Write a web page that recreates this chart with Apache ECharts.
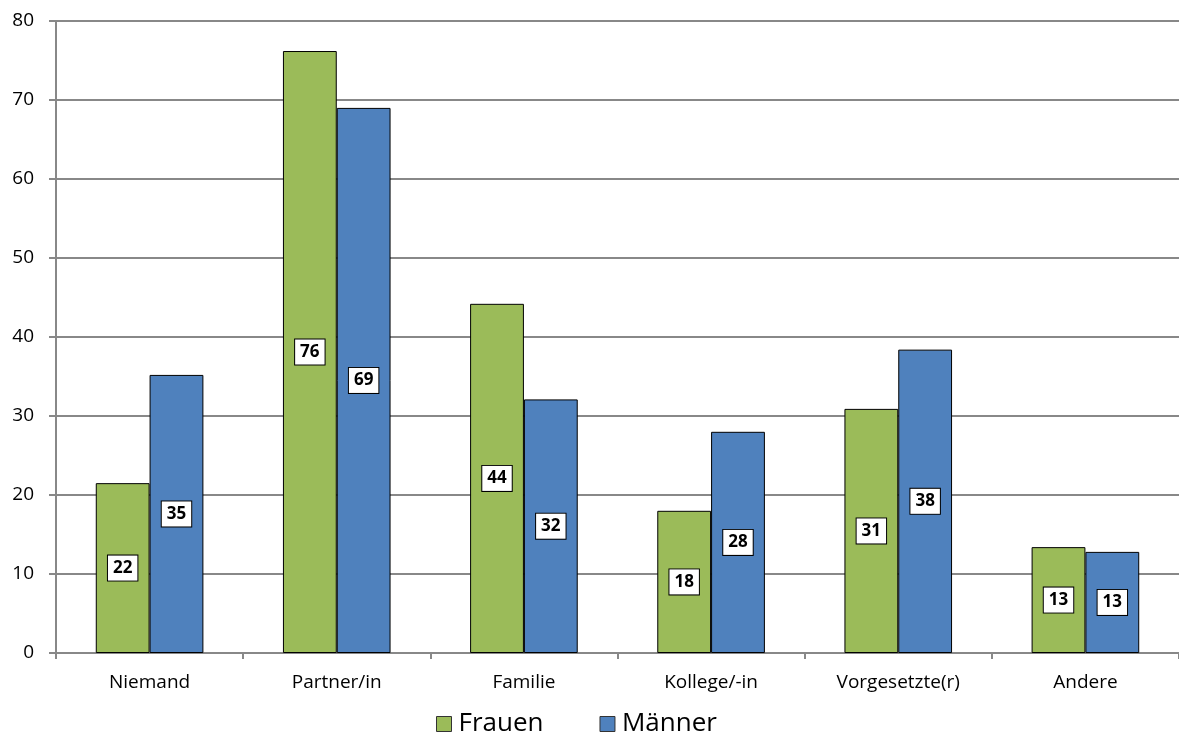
<!DOCTYPE html>
<html><head><meta charset="utf-8">
<script src="https://cdn.jsdelivr.net/npm/echarts@6/dist/echarts.min.js"></script>
<style>html,body{margin:0;padding:0;background:#fff}#c{width:1179px;height:740px}</style>
</head><body><div id="c"></div>
<script>
const categories = ['Niemand', 'Partner/in', 'Familie', 'Kollege/-in', 'Vorgesetzte(r)', 'Andere'];
const frauen = [21.5, 76.2, 44.2, 18.0, 30.9, 13.4];
const maenner = [35.2, 69.0, 32.1, 28.0, 38.4, 12.8];
const seriesNames = ['Frauen', 'Männer'];

const font = 'Open Sans, Noto Sans, sans-serif';
const lbl = {
  show: true, position: 'inside', formatter: p => Math.round(p.value),
  color: '#000', fontWeight: 'bold', fontSize: 17, fontFamily: font,
  backgroundColor: '#fff', borderColor: '#000', borderWidth: 1, padding: [5, 5, 3, 5]
};
const chart = echarts.init(document.getElementById('c'), null, {renderer: 'canvas'});
chart.setOption({
  animation: false,
  grid: {left: 56, right: -5, top: 21, bottom: 87, containLabel: false},
  legend: {
    top: 706, left: 431, itemWidth: 15, itemHeight: 15, itemGap: 56,
    textStyle: {fontSize: 26, fontFamily: font, color: '#000', padding: [0, 0, 0, 2]},
    itemStyle: {borderColor: '#333', borderWidth: 1},
    data: seriesNames.map(n => ({name: n, icon: 'rect'}))
  },
  xAxis: {
    type: 'category', data: categories,
    axisLine: {lineStyle: {color: '#888', width: 2}},
    axisTick: {show: true, length: 6, lineStyle: {color: '#888', width: 2}},
    axisLabel: {color: '#000', fontSize: 19, fontFamily: font, margin: 20}
  },
  yAxis: {
    type: 'value', min: 0, max: 80, interval: 10,
    axisLine: {show: true, lineStyle: {color: '#888', width: 2}},
    axisTick: {show: true, length: 7, lineStyle: {color: '#888', width: 2}},
    axisLabel: {color: '#000', fontSize: 19, fontFamily: font, margin: 22},
    splitLine: {lineStyle: {color: '#888', width: 2}}
  },
  series: [
    {name: seriesNames[0], type: 'bar', data: frauen, barGap: '0%', barCategoryGap: '42.5%',
     itemStyle: {color: '#9BBB59', borderColor: '#000', borderWidth: 1}, label: lbl},
    {name: seriesNames[1], type: 'bar', data: maenner,
     itemStyle: {color: '#4F81BD', borderColor: '#000', borderWidth: 1}, label: lbl}
  ]
});
</script></body></html>
